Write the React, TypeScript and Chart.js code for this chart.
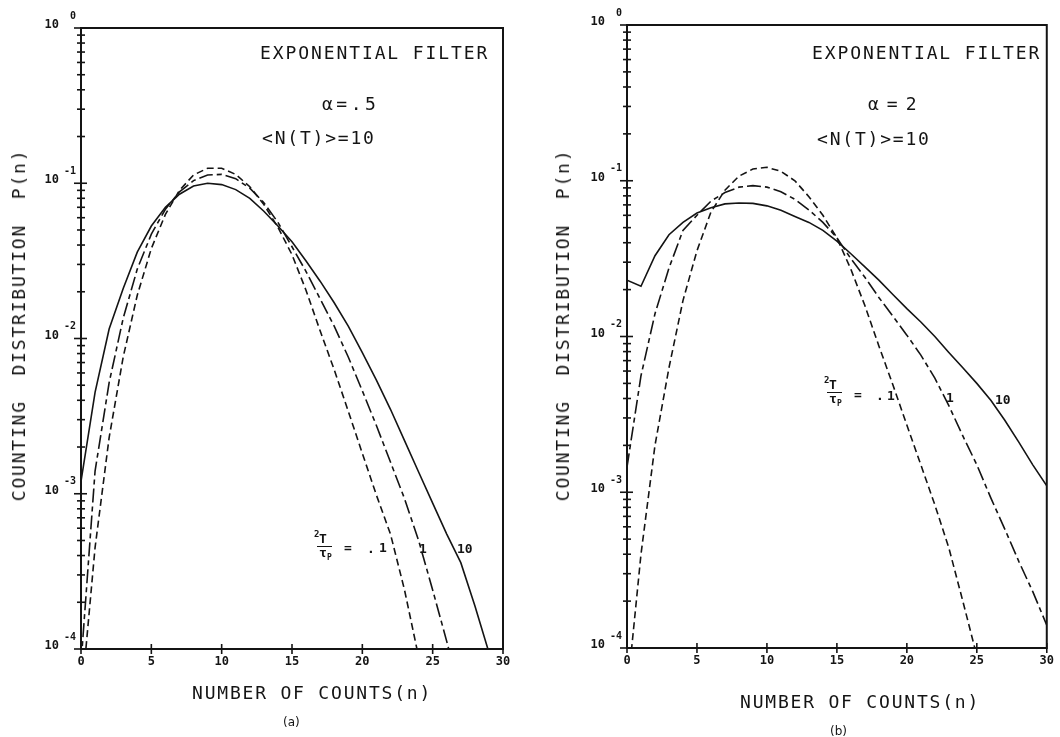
import React, { useEffect, useRef } from "react";
import { Chart, registerables } from "chart.js";

Chart.register(...registerables);

// number of counts n
const COUNTS = [0, 1, 2, 3, 4, 5, 6, 7, 8, 9, 10, 11, 12, 13, 14, 15, 16, 17, 18, 19, 20, 21, 22, 23, 24, 25, 26, 27, 28, 29, 30];

// y axis decades and their exponent labels
const DECADES = [1e-4, 1e-3, 1e-2, 1e-1, 1];
const EXPONENTS = ["-4", "-3", "-2", "-1", "0"];
const MINOR_STEPS = [2, 3, 4, 5, 6, 7, 8, 9];

// panel (a): alpha = .5
const A_TAU_01 = [4.5e-5, 4.5e-4, 2.3e-3, 7.6e-3, 0.019, 0.038, 0.063, 0.09, 0.113, 0.125, 0.125, 0.114, 0.095, 0.073, 0.052, 0.0347, 0.0204, 0.0112, 0.0063, 0.0034, 0.00182, 0.00098, 0.00055, 0.00024, 0.000089];
const A_TAU_1 = [8e-5, 1.4e-3, 5.2e-3, 0.0135, 0.028, 0.047, 0.068, 0.088, 0.104, 0.113, 0.114, 0.107, 0.093, 0.075, 0.056, 0.039, 0.027, 0.018, 0.012, 0.0076, 0.0046, 0.00275, 0.0016, 0.00093, 0.0005, 0.00024, 0.000112, 0.00005];
const A_TAU_10 = [1.2e-3, 4.5e-3, 0.0115, 0.021, 0.036, 0.053, 0.07, 0.085, 0.096, 0.1, 0.098, 0.091, 0.08, 0.066, 0.053, 0.042, 0.0316, 0.0234, 0.017, 0.012, 0.0081, 0.0054, 0.0035, 0.0022, 0.00138, 0.00087, 0.00055, 0.00036, 0.00019, 0.000095, 0.000045];

// panel (b): alpha = 2
const B_TAU_01 = [5e-5, 4.0e-4, 2.0e-3, 6.3e-3, 0.017, 0.0355, 0.063, 0.087, 0.107, 0.119, 0.122, 0.115, 0.1, 0.079, 0.06, 0.043, 0.027, 0.0158, 0.0087, 0.0049, 0.0027, 0.0015, 0.00083, 0.00044, 0.0002, 0.000089];
const B_TAU_1 = [1.45e-3, 5.6e-3, 0.014, 0.0275, 0.048, 0.06, 0.074, 0.084, 0.091, 0.093, 0.091, 0.085, 0.076, 0.065, 0.054, 0.043, 0.0316, 0.024, 0.0178, 0.0135, 0.0102, 0.0076, 0.0054, 0.0036, 0.0023, 0.0015, 0.00092, 0.00058, 0.00036, 0.00023, 0.00014];
const B_TAU_10 = [0.023, 0.021, 0.033, 0.045, 0.054, 0.062, 0.067, 0.071, 0.072, 0.0716, 0.069, 0.0646, 0.059, 0.054, 0.048, 0.041, 0.034, 0.028, 0.023, 0.0186, 0.0151, 0.0124, 0.01, 0.0079, 0.0063, 0.005, 0.0039, 0.0029, 0.0021, 0.0015, 0.0011];

const INK = "#141414";
const MONO = '"DejaVu Sans Mono", monospace';

const toPoints = (vals: number[]) => vals.map((v, i) => ({ x: COUNTS[i], y: v }));

const framePlugin = {
  id: "plotterFrame",
  afterDraw(chart: any) {
    const { ctx, chartArea: a, scales } = chart;
    const x = scales.x;
    const y = scales.y;
    ctx.save();
    ctx.strokeStyle = INK;
    ctx.fillStyle = INK;
    ctx.lineWidth = 2;
    ctx.strokeRect(a.left, a.top, a.right - a.left, a.bottom - a.top);
    const seg = (x1: number, y1: number, x2: number, y2: number) => {
      ctx.beginPath();
      ctx.moveTo(x1, y1);
      ctx.lineTo(x2, y2);
      ctx.stroke();
    };
    ctx.lineWidth = 1.6;
    DECADES.forEach((d, i) => {
      const py = y.getPixelForValue(d);
      seg(a.left - 7, py, a.left + 6, py);
      if (i < DECADES.length - 1) {
        MINOR_STEPS.forEach((m) => {
          const pm = y.getPixelForValue(d * m);
          seg(a.left - 4, pm, a.left + 4, pm);
        });
      }
      ctx.textAlign = "right";
      ctx.textBaseline = "middle";
      ctx.font = `bold 12px ${MONO}`;
      ctx.fillText("10", a.left - 22, py - 3);
      ctx.font = `bold 10px ${MONO}`;
      ctx.fillText(EXPONENTS[i], a.left - 5, py - 12);
    });
    x.ticks.forEach((t: any) => {
      const px = x.getPixelForValue(t.value);
      seg(px, a.bottom - 5, px, a.bottom + 5);
    });
    ctx.restore();
  },
};

type PanelProps = {
  left: number;
  padding: { left: number; top: number; right: number; bottom: number };
  xHeight: number;
  series: number[][];
};

const STYLES = [
  { borderDash: [7, 4] },
  { borderDash: [14, 4, 5, 4] },
  { borderDash: [] as number[] },
];

function Panel({ left, padding, xHeight, series }: PanelProps) {
  const ref = useRef<HTMLCanvasElement | null>(null);
  useEffect(() => {
    if (!ref.current) return;
    const chart = new Chart(ref.current, {
      type: "line",
      data: {
        datasets: series.map((s, i) => ({
          data: toPoints(s),
          borderColor: INK,
          borderWidth: 1.6,
          borderDash: STYLES[i].borderDash,
          pointRadius: 0,
          fill: false,
          tension: 0,
        })),
      },
      options: {
        animation: false,
        responsive: false,
        maintainAspectRatio: false,
        layout: { padding },
        plugins: {
          legend: { display: false },
          tooltip: { enabled: false },
        },
        scales: {
          x: {
            type: "linear",
            min: 0,
            max: 30,
            grid: { display: false, drawTicks: false },
            border: { display: false },
            ticks: {
              stepSize: 5,
              padding: 6,
              color: INK,
              maxRotation: 0,
              font: { family: "DejaVu Sans Mono", weight: "bold", size: 12 },
            },
            afterFit: (s: any) => {
              s.height = xHeight;
            },
          },
          y: {
            type: "logarithmic",
            min: 1e-4,
            max: 1,
            display: false,
          },
        },
      } as any,
      plugins: [framePlugin],
    });
    return () => chart.destroy();
  }, []);
  return (
    <canvas
      ref={ref}
      width={530}
      height={737}
      style={{ position: "absolute", left, top: 0, width: 530, height: 737, display: "block" }}
    />
  );
}

type TProps = {
  x: number;
  y: number;
  size?: number;
  bold?: boolean;
  ls?: number;
  family?: string;
  children: React.ReactNode;
};

function T({ x, y, size = 18, bold = false, ls = 0, family = MONO, children }: TProps) {
  return (
    <div
      style={{
        position: "absolute",
        left: x,
        top: y,
        transform: "translateY(-50%)",
        fontFamily: family,
        fontSize: size,
        fontWeight: bold ? "bold" : "normal",
        letterSpacing: ls,
        lineHeight: 1,
        whiteSpace: "nowrap",
        color: INK,
      }}
    >
      {children}
    </div>
  );
}

function VTitle({ cx, cy }: { cx: number; cy: number }) {
  return (
    <div
      style={{
        position: "absolute",
        left: cx,
        top: cy,
        transform: "translate(-50%, -50%) rotate(-90deg)",
        fontFamily: MONO,
        fontSize: 18,
        letterSpacing: 1.8,
        wordSpacing: 12,
        lineHeight: 1,
        whiteSpace: "nowrap",
        color: INK,
      }}
    >
      COUNTING DISTRIBUTION P(n)
    </div>
  );
}

function TauLabel({ x, y }: { x: number; y: number }) {
  // 2T / tau_P fraction, x,y = left edge and centre of the fraction bar
  return (
    <>
      <T x={x} y={y - 12} size={9} bold>2</T>
      <T x={x + 5} y={y - 8} size={13} bold>T</T>
      <div style={{ position: "absolute", left: x + 3, top: y, width: 15, height: 1, background: INK }} />
      <T x={x + 5} y={y + 6} size={13} bold>τ</T>
      <T x={x + 13} y={y + 12} size={8} bold>P</T>
    </>
  );
}

export default function App() {
  return (
    <div style={{ position: "fixed", left: 0, top: 0, width: 1060, height: 737, background: "#fff", overflow: "hidden" }}>
      <Panel left={0} padding={{ left: 81, top: 28, right: 27, bottom: 0 }} xHeight={88} series={[A_TAU_01, A_TAU_1, A_TAU_10]} />
      <Panel left={530} padding={{ left: 97, top: 25, right: 11, bottom: 0 }} xHeight={89} series={[B_TAU_01, B_TAU_1, B_TAU_10]} />

      {/* panel (a) texts */}
      <T x={260} y={53} ls={1.9}>EXPONENTIAL FILTER</T>
      <T x={322} y={104} ls={3.5}>α=.5</T>
      <T x={262} y={138} ls={1.8}>&lt;N(T)&gt;=10</T>
      <TauLabel x={314} y={546} />
      <T x={344} y={547} size={13} bold>=</T>
      <T x={367} y={548} size={13} bold>.</T>
      <T x={379} y={547} size={13} bold>1</T>
      <T x={419} y={548} size={13} bold>1</T>
      <T x={457} y={548} size={13} bold>10</T>
      <T x={192} y={693} ls={1.8}>NUMBER OF COUNTS(n)</T>
      <T x={283} y={722} size={12} family='"DejaVu Sans", sans-serif'>(a)</T>
      <VTitle cx={19} cy={325} />

      {/* panel (b) texts */}
      <T x={812} y={53} ls={1.9}>EXPONENTIAL FILTER</T>
      <T x={868} y={104} ls={8}>α=2</T>
      <T x={817} y={139} ls={1.8}>&lt;N(T)&gt;=10</T>
      <TauLabel x={824} y={392} />
      <T x={854} y={394} size={13} bold>=</T>
      <T x={876} y={395} size={13} bold>.</T>
      <T x={887} y={395} size={13} bold>1</T>
      <T x={946} y={397} size={13} bold>1</T>
      <T x={995} y={399} size={13} bold>10</T>
      <T x={740} y={702} ls={1.8}>NUMBER OF COUNTS(n)</T>
      <T x={830} y={731} size={12} family='"DejaVu Sans", sans-serif'>(b)</T>
      <VTitle cx={563} cy={325} />
    </div>
  );
}
